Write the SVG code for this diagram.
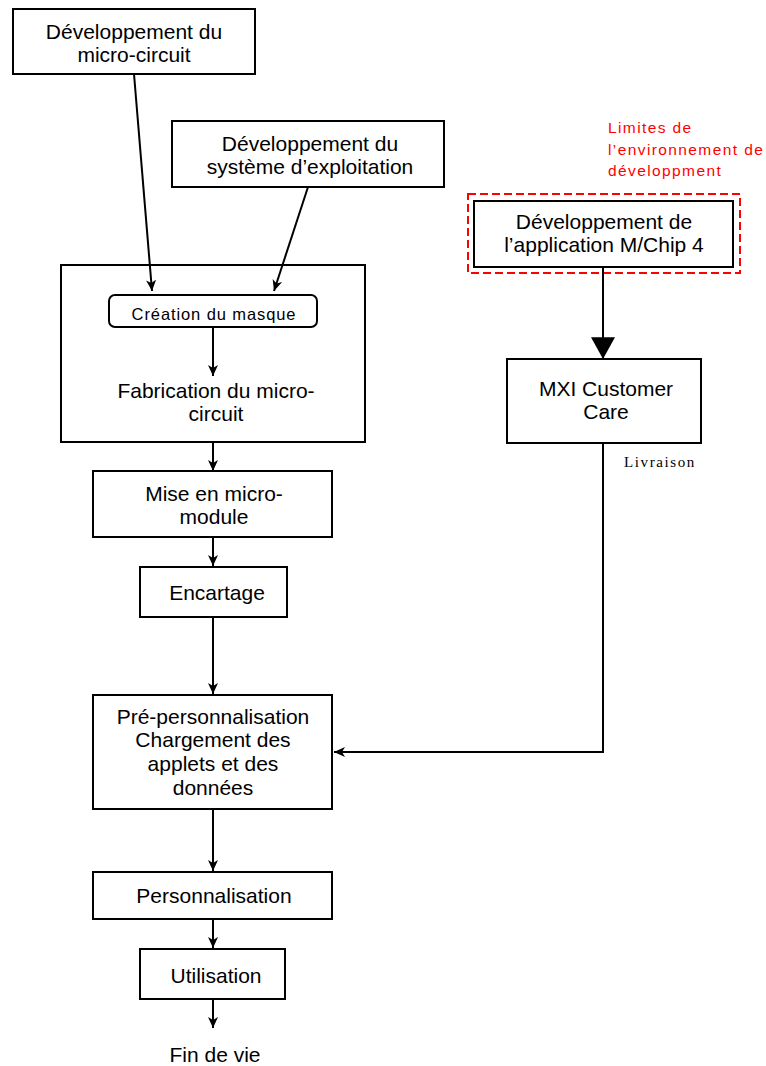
<svg xmlns="http://www.w3.org/2000/svg" width="766" height="1066" viewBox="0 0 766 1066">
<style>
.box{fill:#fff;stroke:#000;stroke-width:2}
.t{font-family:"Liberation Sans",Arial,sans-serif;font-size:21px;fill:#000;text-anchor:middle}
.c{stroke:#000;stroke-width:2;fill:none}
.red{font-family:"Liberation Sans",Arial,sans-serif;font-size:15.5px;fill:#ff0000;letter-spacing:1.4px}
</style>
<defs>
<marker id="ah" markerUnits="userSpaceOnUse" markerWidth="12" markerHeight="12" viewBox="0 0 12 12" refX="11" refY="6" orient="auto">
<path d="M0,1 L11,6 L0,11 L3,6 z" fill="#000"/>
</marker>
<marker id="big" markerUnits="userSpaceOnUse" markerWidth="22" markerHeight="24" viewBox="0 0 20 22" refX="20" refY="11" orient="auto">
<path d="M0,0 L20,11 L0,22 z" fill="#000"/>
</marker>
</defs>
<rect width="766" height="1066" fill="#fff"/>
<g id="n-dev-micro">
<rect class="box" x="13" y="9" width="242" height="65"/>
<text class="t" x="134" y="39">Développement du</text>
<text class="t" x="134" y="62">micro-circuit</text>
</g>
<g id="n-dev-os">
<rect class="box" x="172" y="121" width="272" height="66"/>
<text class="t" x="310" y="151">Développement du</text>
<text class="t" x="310" y="174">système d’exploitation</text>
</g>
<g id="n-fab">
<rect class="box" x="61" y="265" width="304" height="177"/>
<text class="t" x="216" y="398">Fabrication du micro-</text>
<text class="t" x="216" y="421">circuit</text>
</g>
<g id="n-masque">
<rect class="box" x="109" y="295" width="208" height="32" rx="6"/>
<text class="t" x="214" y="320" style="font-size:16.5px;letter-spacing:0.9px">Création du masque</text>
</g>
<g id="n-mise">
<rect class="box" x="93" y="471" width="239" height="66"/>
<text class="t" x="214" y="501">Mise en micro-</text>
<text class="t" x="214" y="524">module</text>
</g>
<g id="n-encartage">
<rect class="box" x="140" y="567" width="147" height="50"/>
<text class="t" x="217" y="600">Encartage</text>
</g>
<g id="n-preperso">
<rect class="box" x="93" y="695" width="239" height="114"/>
<text class="t" x="213" y="724">Pré-personnalisation</text>
<text class="t" x="213" y="747">Chargement des</text>
<text class="t" x="213" y="771">applets et des</text>
<text class="t" x="213" y="795">données</text>
</g>
<g id="n-perso">
<rect class="box" x="93" y="872" width="239" height="47"/>
<text class="t" x="214" y="903">Personnalisation</text>
</g>
<g id="n-util">
<rect class="box" x="140" y="949" width="145" height="50"/>
<text class="t" x="216" y="983">Utilisation</text>
</g>
<g id="n-fin">
<text class="t" x="215" y="1062">Fin de vie</text>
</g>
<g id="n-limites">
<rect x="468" y="194" width="272" height="79" fill="none" stroke="#ff0000" stroke-width="2" stroke-dasharray="8,4"/>
<text class="red" x="608" y="133">Limites de</text>
<text class="red" x="608" y="155">l’environnement de</text>
<text class="red" x="608" y="176">développment</text>
</g>
<g id="n-dev-app">
<rect class="box" x="474" y="201" width="259" height="66"/>
<text class="t" x="604" y="229">Développement de</text>
<text class="t" x="604" y="252">l’application M/Chip 4</text>
</g>
<g id="n-mxi">
<rect class="box" x="507" y="359" width="194" height="84"/>
<text class="t" x="606" y="396">MXI Customer</text>
<text class="t" x="606" y="419">Care</text>
</g>
<g id="l-livraison">
<text x="624" y="467" style="font-family:'Liberation Serif','Times New Roman',serif;font-size:15px;letter-spacing:1.6px;fill:#000">Livraison</text>
</g>
<g id="connectors">
<line class="c" x1="134" y1="74" x2="152" y2="291" marker-end="url(#ah)"/>
<line class="c" x1="308" y1="187" x2="274" y2="291" marker-end="url(#ah)"/>
<line class="c" x1="213" y1="327" x2="213" y2="376" marker-end="url(#ah)"/>
<line class="c" x1="213" y1="442" x2="213" y2="471" marker-end="url(#ah)"/>
<line class="c" x1="213" y1="537" x2="213" y2="566" marker-end="url(#ah)"/>
<line class="c" x1="213" y1="617" x2="213" y2="694" marker-end="url(#ah)"/>
<line class="c" x1="213" y1="809" x2="213" y2="871" marker-end="url(#ah)"/>
<line class="c" x1="213" y1="919" x2="213" y2="948" marker-end="url(#ah)"/>
<line class="c" x1="213" y1="999" x2="213" y2="1028" marker-end="url(#ah)"/>
<line class="c" x1="603" y1="267" x2="603" y2="359" marker-end="url(#big)"/>
<polyline class="c" points="603,443 603,752 334,752" marker-end="url(#ah)"/>
</g>
</svg>
